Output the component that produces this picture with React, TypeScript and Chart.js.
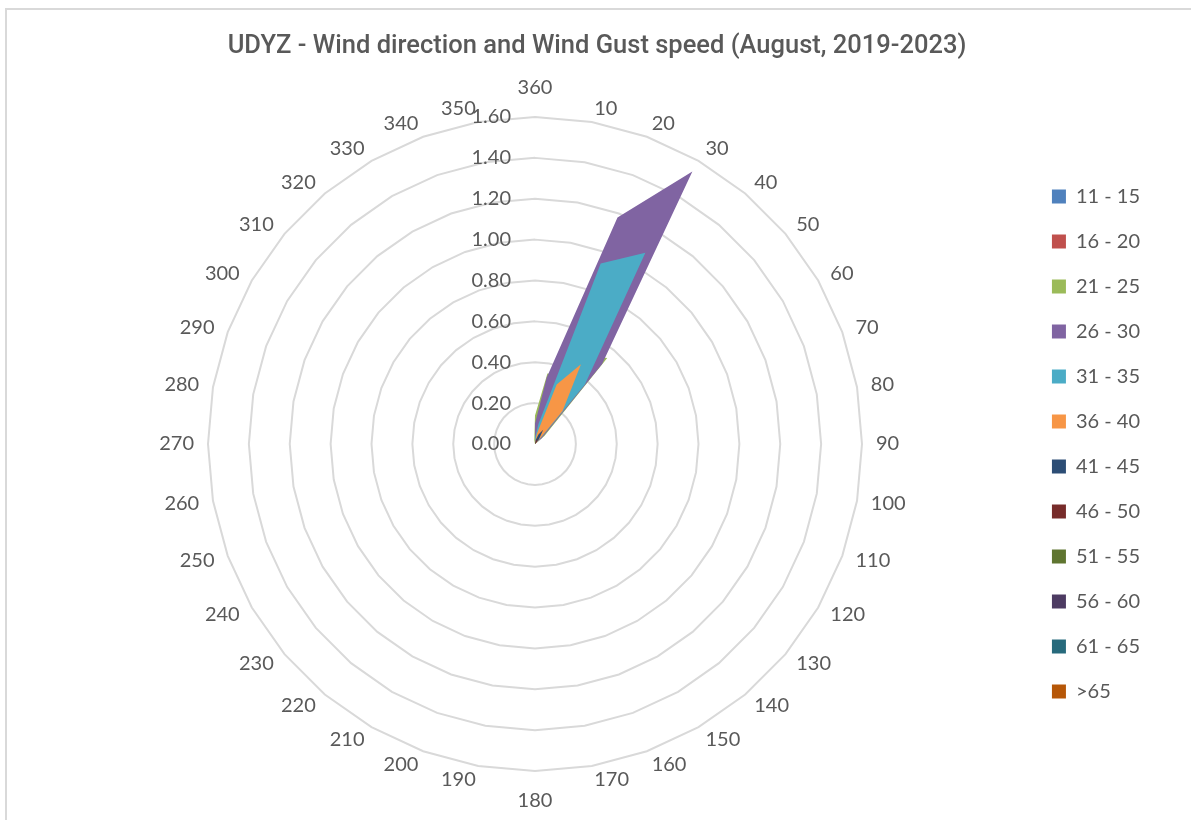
import React, { useEffect, useRef } from "react";
import { Chart, registerables } from "chart.js";

Chart.register(...registerables);

const directions = [
  "360", "10", "20", "30", "40", "50", "60", "70", "80", "90", "100", "110",
  "120", "130", "140", "150", "160", "170", "180", "190", "200", "210", "220", "230",
  "240", "250", "260", "270", "280", "290", "300", "310", "320", "330", "340", "350",
];

const speedBins = [
  "11 - 15", "16 - 20", "21 - 25", "26 - 30", "31 - 35", "36 - 40",
  "41 - 45", "46 - 50", "51 - 55", "56 - 60", "61 - 65", ">65",
];

const binColors = [
  "#4F81BD", "#C0504D", "#9BBB59", "#8064A2", "#4BACC6", "#F79646",
  "#2C4D75", "#772C2A", "#5F7530", "#4D3B62", "#276A7C", "#B65708",
];

const radialTicks = [0, 0.2, 0.4, 0.6, 0.8, 1.0, 1.2, 1.4, 1.6];

const s11_15 = [0, 0.01, 0.02, 0.02, 0.01, 0, 0, 0, 0, 0, 0, 0, 0, 0, 0, 0, 0, 0, 0, 0, 0, 0, 0, 0, 0, 0, 0, 0, 0, 0, 0, 0, 0, 0, 0, 0];
const s16_20 = [0.02, 0.02, 0.03, 0.03, 0.02, 0, 0, 0, 0, 0, 0, 0, 0, 0, 0, 0, 0.02, 0, 0.03, 0, 0.02, 0, 0, 0, 0, 0, 0, 0, 0, 0, 0, 0, 0, 0, 0, 0];
const s21_25 = [0.14, 0.35, 0.36, 0.5, 0.55, 0.06, 0, 0, 0, 0, 0, 0, 0, 0, 0, 0, 0, 0, 0, 0, 0, 0, 0, 0, 0, 0, 0, 0, 0, 0, 0, 0, 0, 0, 0, 0.02];
const s26_30 = [0.1, 0.33, 1.18, 1.54, 0.51, 0.04, 0, 0, 0, 0, 0, 0, 0, 0, 0, 0, 0, 0, 0, 0, 0, 0, 0, 0, 0, 0, 0, 0, 0, 0, 0, 0, 0, 0, 0, 0];
const s31_35 = [0.03, 0.1, 0.94, 1.08, 0.38, 0.02, 0, 0, 0, 0, 0, 0, 0, 0, 0, 0, 0, 0, 0, 0, 0, 0, 0, 0, 0, 0, 0, 0, 0, 0, 0, 0, 0, 0, 0, 0];
const s36_40 = [0.01, 0.05, 0.31, 0.45, 0.21, 0.01, 0, 0, 0, 0, 0, 0, 0, 0, 0, 0, 0, 0, 0, 0, 0, 0, 0, 0, 0, 0, 0, 0, 0, 0, 0, 0, 0, 0, 0, 0];
const s41_45 = [0, 0.02, 0.05, 0.08, 0.03, 0, 0, 0, 0, 0, 0, 0, 0, 0, 0, 0, 0, 0, 0, 0, 0, 0, 0, 0, 0, 0, 0, 0, 0, 0, 0, 0, 0, 0, 0, 0];
const s46_50 = [0, 0, 0.02, 0.03, 0.01, 0, 0, 0, 0, 0, 0, 0, 0, 0, 0, 0, 0, 0, 0, 0, 0, 0, 0, 0, 0, 0, 0, 0, 0, 0, 0, 0, 0, 0, 0, 0];
const s51_55 = [0, 0, 0.01, 0.01, 0, 0, 0, 0, 0, 0, 0, 0, 0, 0, 0, 0, 0, 0, 0, 0, 0, 0, 0, 0, 0, 0, 0, 0, 0, 0, 0, 0, 0, 0, 0, 0];
const s56_60 = [0, 0, 0, 0, 0, 0, 0, 0, 0, 0, 0, 0, 0, 0, 0, 0, 0, 0, 0, 0, 0, 0, 0, 0, 0, 0, 0, 0, 0, 0, 0, 0, 0, 0, 0, 0];
const s61_65 = [0, 0, 0, 0, 0, 0, 0, 0, 0, 0, 0, 0, 0, 0, 0, 0, 0, 0, 0, 0, 0, 0, 0, 0, 0, 0, 0, 0, 0, 0, 0, 0, 0, 0, 0, 0];
const s65plus = [0, 0, 0, 0.01, 0, 0, 0, 0, 0, 0, 0, 0, 0, 0, 0, 0, 0, 0, 0, 0, 0, 0, 0, 0, 0, 0, 0, 0, 0, 0, 0, 0, 0, 0, 0, 0];

const TEXT_COLOR = "#595959";
const LABEL_FONT = "Lato";

export default function App() {
  const ref = useRef<HTMLCanvasElement>(null);

  useEffect(() => {
    if (!ref.current) return;
    const series = [s11_15, s16_20, s21_25, s26_30, s31_35, s36_40, s41_45, s46_50, s51_55, s56_60, s61_65, s65plus];

    const labelPlugin = {
      id: "excelRadarLabels",
      afterDraw(chart: any) {
        const scale = chart.scales.r;
        const ctx = chart.ctx;
        ctx.save();
        ctx.fillStyle = TEXT_COLOR;
        ctx.font = `20px ${LABEL_FONT}`;
        ctx.textAlign = "center";
        ctx.textBaseline = "middle";
        directions.forEach((lab, i) => {
          const deg = (i * 360) / directions.length;
          const p = scale.getPointPosition(i, scale.drawingArea + 14);
          const w = ctx.measureText(lab).width;
          let x = p.x;
          let y = p.y;
          if (deg === 0) y -= 15.5;
          else if (deg === 180) y += 15.5;
          else x += (deg < 180 ? 1 : -1) * w / 2;
          ctx.fillText(lab, x, y);
        });
        ctx.textAlign = "right";
        radialTicks.forEach((v) => {
          const y = scale.yCenter - scale.getDistanceFromCenterForValue(v);
          ctx.fillText(v.toFixed(2), scale.xCenter - 24, y);
        });
        ctx.restore();
      },
    };

    const chart = new Chart(ref.current, {
      type: "radar",
      data: {
        labels: directions,
        datasets: series.map((d, i) => ({
          label: speedBins[i],
          data: d,
          backgroundColor: binColors[i],
          borderColor: "rgba(0,0,0,0)",
          borderWidth: 0,
          pointRadius: 0,
          pointHoverRadius: 0,
          fill: true,
          order: series.length - i,
        })),
      },
      options: {
        animation: false,
        responsive: false,
        maintainAspectRatio: false,
        layout: { padding: { left: 44, right: 50, top: 0, bottom: 49 } },
        scales: {
          r: {
            min: 0,
            max: 1.6,
            ticks: { display: false, stepSize: 0.2 },
            grid: { color: "#d9d9d9", lineWidth: 2 },
            angleLines: { display: false },
            pointLabels: { display: false },
          },
        },
        plugins: {
          title: {
            display: true,
            text: "UDYZ - Wind direction and Wind Gust speed (August, 2019-2023)",
            color: TEXT_COLOR,
            font: { family: "Roboto", size: 25.5, weight: "500" },
            padding: { top: 31, bottom: 55.4 },
          },
          legend: {
            position: "right",
            fullSize: false,
            labels: {
              color: TEXT_COLOR,
              font: { family: LABEL_FONT, size: 20 },
              boxWidth: 14,
              boxHeight: 14,
              padding: 25,
              sort: (a: any, b: any) => a.datasetIndex - b.datasetIndex,
            },
          },
          tooltip: { enabled: false },
        },
      },
      plugins: [labelPlugin],
    } as any);

    return () => chart.destroy();
  }, []);

  return (
    <div style={{ position: "fixed", left: 0, top: 0, width: 1191, height: 820, overflow: "hidden", background: "#fff" }}>
      <canvas ref={ref} width={1200} height={820} style={{ position: "absolute", left: 0, top: 0, width: 1200, height: 820 }} />
      <div
        style={{
          position: "absolute",
          left: 5,
          top: 8,
          width: 2000,
          height: 2000,
          borderLeft: "2px solid #d9d9d9",
          borderTop: "2px solid #d9d9d9",
          pointerEvents: "none",
        }}
      />
    </div>
  );
}
